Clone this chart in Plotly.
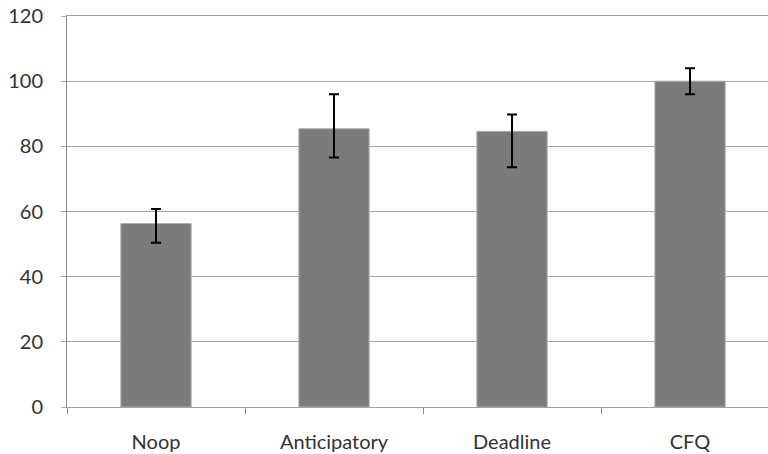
import plotly.graph_objects as go

categories = ["Noop", "Anticipatory", "Deadline", "CFQ"]
values = [56.3, 85.4, 84.6, 100.0]
err_plus = [4.5, 10.6, 5.2, 4.0]
err_minus = [5.9, 8.8, 11.0, 4.0]
y_ticks = [0, 20, 40, 60, 80, 100, 120]

fig = go.Figure()
fig.add_trace(go.Bar(
    x=categories, y=values, width=0.395,
    marker=dict(color="#7b7b7b", line=dict(color="#b0b0b0", width=1)),
    error_y=dict(type="data", symmetric=False, array=err_plus, arrayminus=err_minus,
                 color="#000000", thickness=2, width=5),
))

fig.update_layout(
    width=768, height=454,
    margin=dict(l=67, r=0, t=16, b=47),
    plot_bgcolor="white", paper_bgcolor="white",
    showlegend=False,
    font=dict(family="Lato, Noto Sans, sans-serif", size=20, color="#333333"),
)
fig.update_xaxes(
    range=[-0.5, 3.438], showgrid=False, showline=True, linecolor="#a0a0a0", linewidth=1,
    mirror=True,
    ticks="outside", tickson="boundaries", ticklen=6, tickcolor="#8c8c8c",
    ticklabelstandoff=17,
)
fig.update_yaxes(
    range=[0, 120], tickvals=y_ticks, showgrid=True, gridcolor="#a6a6a6", gridwidth=1,
    showline=True, linecolor="#8c8c8c", linewidth=1, zeroline=False,
    ticks="outside", ticklen=5, tickcolor="#a6a6a6", ticklabelstandoff=14,
)

fig.write_html("out.html", config={"displayModeBar": False},
               post_script="document.body.style.margin='0';")
